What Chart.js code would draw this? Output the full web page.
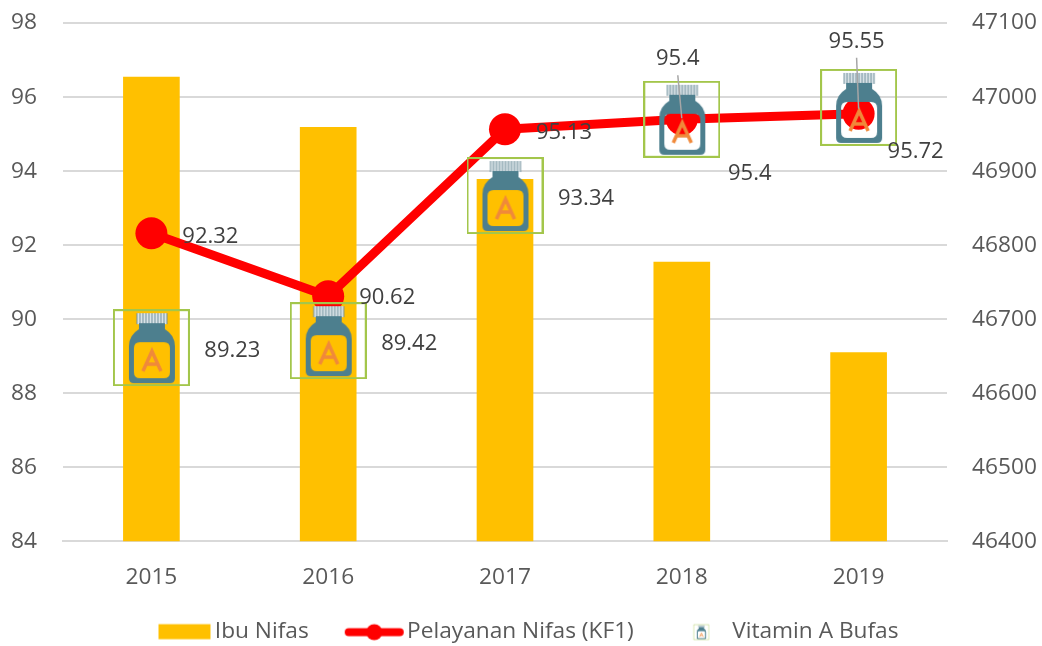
<!DOCTYPE html>
<html>
<head>
<meta charset="utf-8">
<style>html,body{margin:0;padding:0;background:#fff}canvas{display:block}</style>
<script src="https://cdn.jsdelivr.net/npm/chart.js@4"></script>
</head>
<body>
<canvas id="c" width="1042" height="646"></canvas>
<script>
const categories = ['2015','2016','2017','2018','2019'];
const ibuNifas = [47027,46959,46889,46777,46655];
const pelayananNifas = [92.32,90.62,95.13,95.4,95.55];
const vitaminA = [89.23,89.42,93.34,95.4,95.72];
const seriesNames = ['Ibu Nifas','Pelayanan Nifas (KF1)','Vitamin A Bufas'];

const FONT = '"Open Sans", sans-serif';
const BAR = '#FFC000', RED = '#FF0000', GREEN = '#A3C64B', BOTTLE = '#4D7F8E', ORANGE = '#F0893A';

function rr(g,x,y,w,h,r){g.beginPath();g.roundRect(x,y,w,h,r);}

function makeBottle(size){
  const cv = document.createElement('canvas'); cv.width = cv.height = size + 2;
  const g = cv.getContext('2d');
  g.translate(1,1);
  const s = size/75; g.scale(s,s);
  // cap
  g.fillStyle = '#DDE6EA'; g.fillRect(23,3,30,11);
  g.strokeStyle = '#6E8E9A'; g.lineWidth = 1;
  for(let i=0;i<=10;i++){g.beginPath();g.moveTo(23+i*3,3);g.lineTo(23+i*3,14);g.stroke();}
  // body
  g.fillStyle = BOTTLE;
  g.beginPath();
  g.moveTo(25,13);g.lineTo(51,13);g.lineTo(51,19);
  g.quadraticCurveTo(61,25,61,36);
  g.lineTo(61,68);g.quadraticCurveTo(61,73,56,73);
  g.lineTo(20,73);g.quadraticCurveTo(15,73,15,68);
  g.lineTo(15,36);g.quadraticCurveTo(15,25,25,19);g.closePath();
  // window cut-out
  g.moveTo(26,32);g.lineTo(50,32);g.quadraticCurveTo(56,32,56,38);
  g.lineTo(56,62);g.quadraticCurveTo(56,68,50,68);
  g.lineTo(26,68);g.quadraticCurveTo(20,68,20,62);
  g.lineTo(20,38);g.quadraticCurveTo(20,32,26,32);g.closePath();
  g.fill('evenodd');
  // letter A
  g.strokeStyle = ORANGE; g.lineWidth = 3.5; g.lineJoin = 'miter';
  g.beginPath();g.moveTo(29,61);g.lineTo(38,41);g.lineTo(47,61);g.stroke();
  g.beginPath();g.moveTo(32.5,54);g.lineTo(43.5,54);g.stroke();
  // frame
  g.strokeStyle = GREEN; g.lineWidth = 2; g.strokeRect(0,0,75,75);
  return cv;
}
function legendSwatch(){
  const cv = document.createElement('canvas'); cv.width = 80; cv.height = 20;
  const g = cv.getContext('2d'); g.fillStyle = BAR; g.fillRect(25,2.5,52,15); return cv;
}
function legendLine(){
  const cv = document.createElement('canvas'); cv.width = 80; cv.height = 20;
  const g = cv.getContext('2d'); g.fillStyle = RED;
  rr(g,19,6.5,59,8,4); g.fill();
  g.beginPath(); g.arc(48.5,10.5,8,0,Math.PI*2); g.fill(); return cv;
}
function legendVitamin(){
  const m = makeBottle(15);
  const cv = document.createElement('canvas'); cv.width = 80; cv.height = 20;
  cv.getContext('2d').drawImage(m,42,2); return cv;
}

const bottle = makeBottle(75);

const labelPlugin = {
  id:'manualLabels',
  afterDatasetsDraw(chart){
    const g = chart.ctx;
    const sets = [
      {ds:1, values:pelayananNifas, off:[[59,3],[59,2],[59,3],[-4,-61],[-2,-72]]},
      {ds:0, values:vitaminA, off:[[81,3],[81,3],[81,3],[68,54],[57,44]]}
    ];
    g.save();
    // leader lines
    g.strokeStyle = '#A6A6A6'; g.lineWidth = 1.5;
    const metaL = chart.getDatasetMeta(1).data;
    [[3,-44,-1],[4,-56,-5]].forEach(([i,top,bot])=>{
      const p = metaL[i], o = sets[0].off[i];
      g.beginPath(); g.moveTo(p.x+o[0],p.y+top); g.lineTo(p.x,p.y+bot); g.stroke();
    });
    g.font = '22px '+FONT; g.fillStyle = '#404040';
    g.textAlign = 'center'; g.textBaseline = 'middle';
    sets.forEach(s=>{
      const pts = chart.getDatasetMeta(s.ds).data;
      pts.forEach((p,i)=> g.fillText(String(s.values[i]), p.x+s.off[i][0], p.y+s.off[i][1]));
    });
    g.restore();
  }
};

new Chart(document.getElementById('c'),{
  data:{
    labels:categories,
    datasets:[
      {type:'line',label:seriesNames[2],data:vitaminA,yAxisID:'y',order:1,showLine:false,
       pointStyle:bottle,pointRadius:38,pointHoverRadius:38,backgroundColor:GREEN,borderColor:GREEN},
      {type:'line',label:seriesNames[1],data:pelayananNifas,yAxisID:'y',order:2,borderColor:RED,backgroundColor:RED,
       borderWidth:9,pointRadius:16,pointHoverRadius:16,pointBackgroundColor:RED,pointBorderColor:RED,pointBorderWidth:0,tension:0,borderCapStyle:'round',borderJoinStyle:'round'},
      {type:'bar',label:seriesNames[0],data:ibuNifas,yAxisID:'y1',order:3,backgroundColor:BAR,barThickness:56}
    ]
  },
  options:{
    responsive:false,animation:false,
    layout:{autoPadding:false,padding:{top:23,bottom:-7,left:0,right:0}},
    plugins:{
      tooltip:{enabled:false},
      title:{display:false},
      legend:{
        position:'bottom',
        labels:{
          usePointStyle:true,pointStyleWidth:60,boxHeight:20,padding:27,color:'#595959',
          font:{family:FONT,size:22.7},
          generateLabels(){
            return [
              {text:seriesNames[0],pointStyle:legendSwatch(),datasetIndex:2,fontColor:'#595959',lineWidth:0},
              {text:seriesNames[1],pointStyle:legendLine(),datasetIndex:1,fontColor:'#595959',lineWidth:0},
              {text:seriesNames[2],pointStyle:legendVitamin(),datasetIndex:0,fontColor:'#595959',lineWidth:0}
            ];
          }
        }
      }
    },
    scales:{
      x:{
        type:'category',offset:true,
        grid:{display:false},border:{display:true,color:'#D9D9D9',width:2},
        ticks:{color:'#595959',font:{family:FONT,size:22.7},padding:15,maxRotation:0},
        afterFit(s){s.height=52;}
      },
      y:{
        position:'left',min:84,max:98,
        grid:{color:'#D9D9D9',lineWidth:2,drawTicks:true,tickLength:26,tickColor:'rgba(0,0,0,0)'},border:{display:false},
        ticks:{stepSize:2,color:'#595959',font:{family:FONT,size:22.7},padding:0},
        afterFit(s){s.width=63;}
      },
      y1:{
        position:'right',min:46400,max:47100,
        grid:{display:false,drawTicks:true,tickLength:25},border:{display:false},
        ticks:{stepSize:100,color:'#595959',font:{family:FONT,size:22.7},padding:0,callback:v=>String(v)},
        afterFit(s){s.width=95;}
      }
    }
  },
  plugins:[labelPlugin]
});
</script>
</body>
</html>
